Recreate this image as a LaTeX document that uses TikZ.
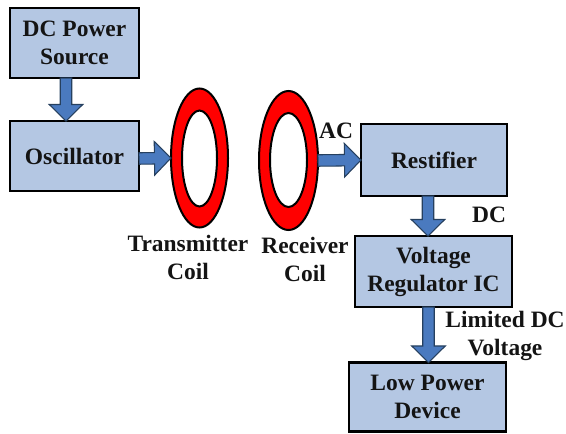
\documentclass[tikz,border=0pt]{standalone}
\usepackage{fontspec}
\setmainfont{Liberation Serif}
\usetikzlibrary{shapes.geometric,calc}
\definecolor{boxfill}{HTML}{B4C7E3}
\definecolor{arrowfill}{HTML}{4A7ABF}
\definecolor{arrowline}{HTML}{26405F}
\def\u{0.75pt}
\tikzset{
  txt/.style={font=\fontsize{17.6}{21}\selectfont\bfseries,align=center,inner sep=0pt,outer sep=0pt,text=black!92},
  blockbox/.style={txt,draw=black,line width=1.6pt,fill=boxfill},
  coilouter/.style={ellipse,draw=black,line width=1.5pt,fill=red,inner sep=0pt,outer sep=0pt},
  coilinner/.style={ellipse,draw=black,line width=1.5pt,fill=white,inner sep=0pt,outer sep=0pt},
  blockarrow/.style={draw=arrowline,line width=0.8pt,fill=arrowfill,line join=miter},
}
% block arrow from point #1 to point #2
\newcommand{\blockarrow}[2]{%
  \path let \p1=#1, \p2=#2, \n1={atan2(\y2-\y1,\x2-\x1)}, \n2={veclen(\x2-\x1,\y2-\y1)} in
    [blockarrow,draw,fill] [shift={(\p1)},rotate=\n1]
    (0pt,-4.3pt) -- ({\n2-12.4pt},-4.3pt) -- ({\n2-12.4pt},-12.6pt) -- (\n2,0pt)
    -- ({\n2-12.4pt},12.6pt) -- ({\n2-12.4pt},4.3pt) -- (0pt,4.3pt) -- cycle;%
}
\begin{document}
\begin{tikzpicture}[x=0.75pt,y=-0.75pt]
\useasboundingbox (0,0) rectangle (566,433);
% boxes
\node[blockbox,minimum width=129*\u,minimum height=70*\u] (dc) at (74.5,43) {DC Power\\Source};
\node[blockbox,minimum width=129*\u,minimum height=70*\u] (osc) at (74.5,156) {Oscillator};
\node[blockbox,minimum width=146*\u,minimum height=72*\u] (rest) at (434,160) {Restifier};
\node[blockbox,minimum width=157*\u,minimum height=71*\u] (reg) at (433.5,271.5) {\raisebox{-1.1pt}{Voltage}\\[0pt]\raisebox{-1.1pt}{Regulator IC}};
\node[blockbox,minimum width=157*\u,minimum height=69*\u] (low) at (427.5,397) {Low Power\\Device};
% coils
\node[coilouter,minimum width=57*\u,minimum height=139*\u] (tx) at (199.5,158) {};
\node[coilinner,minimum width=35*\u,minimum height=96*\u] (txi) at (199.5,158.5) {};
\node[coilouter,minimum width=59*\u,minimum height=139*\u] (rx) at (288.5,160.5) {};
\node[coilinner,minimum width=37*\u,minimum height=94*\u] (rxi) at (288.5,160) {};
% block arrows
\blockarrow{($(dc.south)+(-8.5,0)$)}{($(osc.north)+(-8.5,0)$)}
\blockarrow{($(osc.east)+(0,2.5)$)}{(tx.west)}
\blockarrow{(rx.east)}{(rest.west)}
\blockarrow{($(rest.south)+(-6,0)$)}{($(reg.north)+(-5.5,0)$)}
\blockarrow{($(reg.south)+(-5,0)$)}{($(low.north)+(1,0)$)}
% labels
\node[txt] (tl) at (188,257.5) {Transmitter\\Coil};
\node[txt] (rl) at (305,259.5) {Receiver\\Coil};
\node[txt] (ac) at (336,131) {AC};
\node[txt] (dcl) at (489,215) {DC};
\node[txt] (ll) at (505,335.5) {Limited DC\\Voltage};
\end{tikzpicture}
\end{document}
